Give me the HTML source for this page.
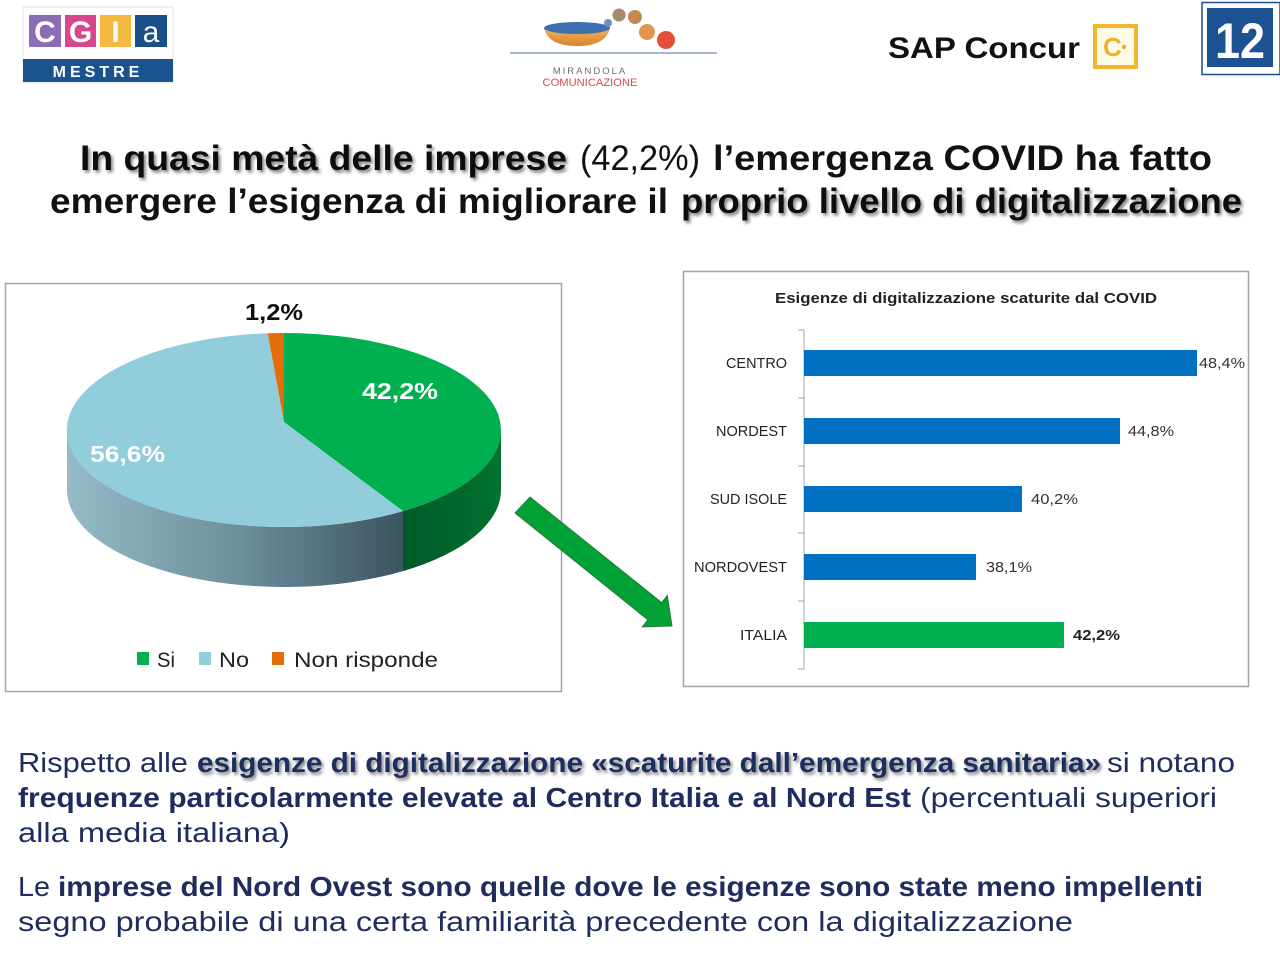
<!DOCTYPE html>
<html><head><meta charset="utf-8"><style>
html,body{margin:0;padding:0;background:#fff;}
svg{display:block;}
text{font-family:"Liberation Sans",sans-serif;}
</style></head><body>
<svg width="1280" height="959" viewBox="0 0 1280 959" xmlns="http://www.w3.org/2000/svg">
<defs>
<filter id="sh" x="-5%" y="-30%" width="110%" height="160%">
<feDropShadow dx="2" dy="2.5" stdDeviation="1.6" flood-color="#555" flood-opacity="0.75"/>
</filter>
<linearGradient id="blueSide" x1="67" y1="0" x2="403" y2="0" gradientUnits="userSpaceOnUse">
<stop offset="0" stop-color="#95bac8"/><stop offset="0.5" stop-color="#6e909d"/><stop offset="1" stop-color="#3b5561"/>
</linearGradient>
<linearGradient id="greenSide" x1="403" y1="0" x2="501" y2="0" gradientUnits="userSpaceOnUse">
<stop offset="0" stop-color="#005a28"/><stop offset="1" stop-color="#00722f"/>
</linearGradient>
<linearGradient id="bowl" x1="0" y1="0" x2="0" y2="1">
<stop offset="0" stop-color="#f0b45a"/><stop offset="1" stop-color="#d9822e"/>
</linearGradient>
</defs>
<rect width="1280" height="959" fill="#fff"/>

<!-- CGIA logo -->
<rect x="23" y="7" width="150" height="76" fill="#fff" stroke="#e6e6e6" stroke-width="1"/>
<rect x="29" y="15" width="32" height="32" fill="#8c6db4"/>
<rect x="65" y="15" width="31" height="32" fill="#d8478e"/>
<rect x="100" y="15" width="31" height="32" fill="#f5b940"/>
<rect x="135" y="15" width="32" height="32" fill="#1b4f87"/>
<text x="45" y="42" font-size="30" fill="#fff" text-anchor="middle" font-weight="bold">C</text>
<text x="80.5" y="42" font-size="30" fill="#fff" text-anchor="middle" font-weight="bold">G</text>
<text x="115.5" y="42" font-size="30" fill="#fff" text-anchor="middle" font-weight="bold">I</text>
<text x="151" y="42" font-size="30" fill="#fff" text-anchor="middle">a</text>
<rect x="23" y="59" width="150" height="23" fill="#1b5391"/>
<text x="98" y="77" font-size="16" fill="#fff" text-anchor="middle" font-weight="bold" letter-spacing="4">MESTRE</text>

<!-- Mirandola logo -->
<path d="M544,28 Q548,46 577,46 Q606,46 610,28 Z" fill="url(#bowl)"/>
<ellipse cx="577" cy="28" rx="33" ry="6" fill="#3d6fae"/>
<circle cx="608" cy="23" r="4" fill="#6b8fbf"/>
<circle cx="619" cy="15" r="6.5" fill="#a58a6e"/>
<circle cx="635" cy="17" r="7" fill="#c58a52"/>
<circle cx="647" cy="32" r="8" fill="#e09550"/>
<circle cx="666" cy="40" r="9" fill="#e2503a"/>
<line x1="510" y1="53" x2="717" y2="53" stroke="#a8b8cc" stroke-width="2"/>
<text x="590" y="74" font-size="9.5" fill="#6d6d6d" text-anchor="middle" letter-spacing="2">MIRANDOLA</text>
<text x="590" y="86" font-size="11" fill="#d84b4b" text-anchor="middle" textLength="95" lengthAdjust="spacingAndGlyphs">COMUNICAZIONE</text>

<!-- SAP Concur -->
<text x="888" y="58" font-size="30" font-weight="bold" fill="#111" textLength="192" lengthAdjust="spacingAndGlyphs">SAP Concur</text>
<rect x="1095" y="26" width="41" height="41" fill="#fffbe8" stroke="#f1b530" stroke-width="4"/>
<text x="1103" y="56" font-size="26" font-weight="bold" fill="#eeb02a">C</text>
<circle cx="1124" cy="47" r="2.2" fill="#eeb02a"/>

<!-- 12 box -->
<rect x="1202" y="2.5" width="78" height="72" fill="#fff" stroke="#1f4e8a" stroke-width="1.5"/>
<rect x="1207" y="8" width="66" height="59" fill="#1c5291"/>
<text x="1240" y="58" font-size="50" font-weight="bold" fill="#fff" text-anchor="middle" textLength="50" lengthAdjust="spacingAndGlyphs">12</text>

<!-- Title -->
<g fill="#111">
<text x="80" y="170" font-size="35" font-weight="bold" filter="url(#sh)" textLength="487" lengthAdjust="spacingAndGlyphs">In quasi metà delle imprese</text>
<text x="580" y="170" font-size="35" textLength="120" lengthAdjust="spacingAndGlyphs">(42,2%)</text>
<text x="713" y="170" font-size="35" font-weight="bold" textLength="499" lengthAdjust="spacingAndGlyphs">l’emergenza COVID ha fatto</text>
<text x="50" y="213" font-size="35" font-weight="bold" textLength="618" lengthAdjust="spacingAndGlyphs">emergere l’esigenza di migliorare il</text>
<text x="681" y="213" font-size="35" font-weight="bold" filter="url(#sh)" textLength="561" lengthAdjust="spacingAndGlyphs">proprio livello di digitalizzazione</text>
</g>

<!-- Pie panel -->
<rect x="5.5" y="283.5" width="556" height="408" fill="#fff" stroke="#a3a3a3" stroke-width="1.5"/>
<path d="M67,430 A217,97 0 0 0 403,511.1 L403,571.1 A217,97 0 0 1 67,490 Z" fill="url(#blueSide)"/>
<path d="M403,511.1 A217,97 0 0 0 501,430 L501,490 A217,97 0 0 1 403,571.1 Z" fill="url(#greenSide)"/>
<path d="M284,422 L284,333 A217,97 0 0 1 403,511.1 Z" fill="#00b050"/>
<path d="M284,422 L403,511.1 A217,97 0 1 1 267.7,333.3 Z" fill="#92cddc"/>
<path d="M284,422 L267.7,333.3 A217,97 0 0 1 284,333 Z" fill="#e46c0a"/>
<text x="245" y="320" font-size="23" font-weight="bold" fill="#111" textLength="58" lengthAdjust="spacingAndGlyphs">1,2%</text>
<text x="362" y="399" font-size="23" font-weight="bold" fill="#fff" textLength="76" lengthAdjust="spacingAndGlyphs">42,2%</text>
<text x="90" y="462" font-size="23" font-weight="bold" fill="#fff" textLength="75" lengthAdjust="spacingAndGlyphs">56,6%</text>
<rect x="137" y="652" width="12" height="13" fill="#00b050"/>
<text x="157" y="667" font-size="21" fill="#222" textLength="18" lengthAdjust="spacingAndGlyphs">Si</text>
<rect x="199" y="652" width="12" height="13" fill="#92cddc"/>
<text x="219" y="667" font-size="21" fill="#222" textLength="30" lengthAdjust="spacingAndGlyphs">No</text>
<rect x="272" y="652" width="12" height="13" fill="#e46c0a"/>
<text x="294" y="667" font-size="21" fill="#222" textLength="144" lengthAdjust="spacingAndGlyphs">Non risponde</text>

<!-- Bar panel -->
<rect x="683.5" y="271.5" width="565" height="415" fill="#fff" stroke="#a3a3a3" stroke-width="1.5"/>
<text x="775" y="303" font-size="15" font-weight="bold" fill="#222" textLength="382" lengthAdjust="spacingAndGlyphs">Esigenze di digitalizzazione scaturite dal COVID</text>
<g stroke="#a6a6a6" stroke-width="1">
<line x1="804" y1="330" x2="804" y2="669"/>
<line x1="798" y1="330" x2="804" y2="330"/>
<line x1="798" y1="398" x2="804" y2="398"/>
<line x1="798" y1="466" x2="804" y2="466"/>
<line x1="798" y1="533" x2="804" y2="533"/>
<line x1="798" y1="601" x2="804" y2="601"/>
<line x1="798" y1="669" x2="804" y2="669"/>
</g>
<rect x="804" y="350" width="393" height="26" fill="#0070c0"/>
<rect x="804" y="418" width="316" height="26" fill="#0070c0"/>
<rect x="804" y="486" width="218" height="26" fill="#0070c0"/>
<rect x="804" y="554" width="172" height="26" fill="#0070c0"/>
<rect x="804" y="622" width="260" height="26" fill="#00b050"/>
<g font-size="14.5" fill="#222" text-anchor="end">
<text x="787" y="368" textLength="61" lengthAdjust="spacingAndGlyphs">CENTRO</text>
<text x="787" y="436" textLength="71" lengthAdjust="spacingAndGlyphs">NORDEST</text>
<text x="787" y="504" textLength="77" lengthAdjust="spacingAndGlyphs">SUD ISOLE</text>
<text x="787" y="572" textLength="93" lengthAdjust="spacingAndGlyphs">NORDOVEST</text>
<text x="787" y="640" textLength="47" lengthAdjust="spacingAndGlyphs">ITALIA</text>
</g>
<g font-size="14.5" fill="#333">
<text x="1199" y="368" textLength="46" lengthAdjust="spacingAndGlyphs">48,4%</text>
<text x="1128" y="436" textLength="46" lengthAdjust="spacingAndGlyphs">44,8%</text>
<text x="1031" y="504" textLength="47" lengthAdjust="spacingAndGlyphs">40,2%</text>
<text x="986" y="572" textLength="46" lengthAdjust="spacingAndGlyphs">38,1%</text>
<text x="1073" y="640" font-weight="bold" fill="#222" textLength="47" lengthAdjust="spacingAndGlyphs">42,2%</text>
</g>

<!-- Arrow -->
<path d="M515,513 L530,497 L661.7,602.6 L667.3,595.6 L672,626 L642.3,626.8 L647.9,619.8 Z" fill="#00a135" stroke="#2f7a3a" stroke-width="1"/>

<!-- Bottom text -->
<g font-size="28" fill="#1f2d5e">
<text x="18" y="772" textLength="170" lengthAdjust="spacingAndGlyphs">Rispetto alle</text>
<text x="197" y="772" font-weight="bold" filter="url(#sh)" textLength="904" lengthAdjust="spacingAndGlyphs">esigenze di digitalizzazione «scaturite dall’emergenza sanitaria»</text>
<text x="1107" y="772" textLength="128" lengthAdjust="spacingAndGlyphs">si notano</text>
<text x="18" y="807" font-weight="bold" textLength="893" lengthAdjust="spacingAndGlyphs">frequenze particolarmente elevate al Centro Italia e al Nord Est</text>
<text x="920" y="807" textLength="297" lengthAdjust="spacingAndGlyphs">(percentuali superiori</text>
<text x="18" y="842" textLength="272" lengthAdjust="spacingAndGlyphs">alla media italiana)</text>
<text x="18" y="896" textLength="32" lengthAdjust="spacingAndGlyphs">Le</text>
<text x="58" y="896" font-weight="bold" textLength="1145" lengthAdjust="spacingAndGlyphs">imprese del Nord Ovest sono quelle dove le esigenze sono state meno impellenti</text>
<text x="18" y="931" textLength="1055" lengthAdjust="spacingAndGlyphs">segno probabile di una certa familiarità precedente con la digitalizzazione</text>
</g>
</svg>
</body></html>
